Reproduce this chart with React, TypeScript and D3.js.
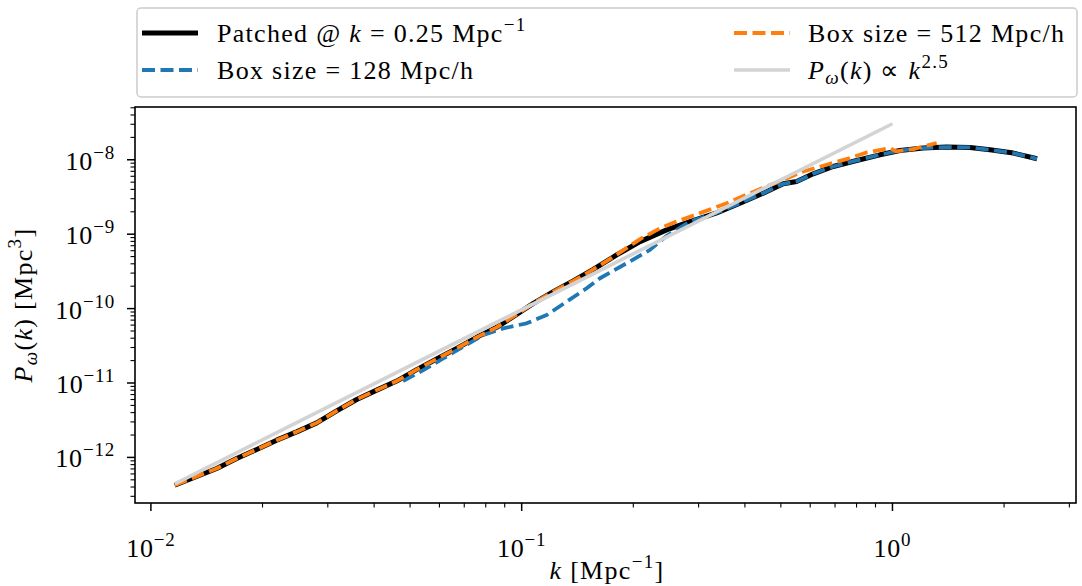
import React from "react"
import * as d3 from "d3"

// patched spectrum (black)
const kPatched = [0.01159, 0.01505, 0.01703, 0.01929, 0.02184, 0.02472, 0.028, 0.0317, 0.03589, 0.04064, 0.04601, 0.05209, 0.05898, 0.06678, 0.0756, 0.08562, 0.0949, 0.1075, 0.1217, 0.1377, 0.156, 0.1804, 0.2085, 0.246, 0.2844, 0.3357, 0.3879, 0.4482, 0.5076, 0.5515, 0.6114, 0.6922, 0.8007, 0.9254, 1.0476, 1.211, 1.4, 1.618, 1.832, 2.118, 2.454]
const pPatched = [4.23e-13, 7.1e-13, 9.66e-13, 1.277e-12, 1.706e-12, 2.204e-12, 2.911e-12, 4.225e-12, 6.01e-12, 8.02e-12, 1.061e-11, 1.514e-11, 2.099e-11, 2.923e-11, 4.11e-11, 5.6e-11, 7.78e-11, 1.178e-10, 1.687e-10, 2.35e-10, 3.36e-10, 5.26e-10, 7.94e-10, 1.142e-9, 1.479e-9, 1.936e-9, 2.61e-9, 3.56e-9, 4.75e-9, 5.11e-9, 6.48e-9, 8.13e-9, 9.79e-9, 1.166e-8, 1.334e-8, 1.436e-8, 1.482e-8, 1.465e-8, 1.365e-8, 1.231e-8, 1.031e-8]

// box size 128 Mpc/h (blue)
const kBox128 = [0.04786, 0.05428, 0.06145, 0.0696, 0.07876, 0.08921, 0.1031, 0.1168, 0.1322, 0.1497, 0.1626, 0.1919, 0.2218, 0.246, 0.2844, 0.3357, 0.3879, 0.4482, 0.5076, 0.5515, 0.6114, 0.6922, 0.8007, 0.9254, 1.0476, 1.211, 1.4, 1.618, 1.832, 2.118, 2.454]
const pBox128 = [1.061e-11, 1.493e-11, 2.143e-11, 3.07e-11, 4.41e-11, 5.43e-11, 6.34e-11, 8.2e-11, 1.238e-10, 1.875e-10, 2.56e-10, 4.07e-10, 6.15e-10, 9.48e-10, 1.479e-9, 1.936e-9, 2.61e-9, 3.56e-9, 4.75e-9, 5.11e-9, 6.48e-9, 8.13e-9, 9.79e-9, 1.166e-8, 1.334e-8, 1.436e-8, 1.482e-8, 1.465e-8, 1.365e-8, 1.231e-8, 1.031e-8]

// box size 512 Mpc/h (orange)
const kBox512 = [0.01159, 0.01505, 0.01703, 0.01929, 0.02184, 0.02472, 0.028, 0.0317, 0.03589, 0.04064, 0.04601, 0.05209, 0.05898, 0.06678, 0.0756, 0.08562, 0.0949, 0.1075, 0.1217, 0.1377, 0.156, 0.1804, 0.2085, 0.236, 0.2618, 0.3026, 0.3571, 0.4127, 0.4873, 0.5745, 0.6646, 0.7678, 0.8519, 0.9846, 1.022, 1.138, 1.316]
const pBox512 = [4.23e-13, 7.1e-13, 9.66e-13, 1.277e-12, 1.706e-12, 2.204e-12, 2.911e-12, 4.225e-12, 6.01e-12, 8.02e-12, 1.061e-11, 1.514e-11, 2.099e-11, 2.923e-11, 4.11e-11, 5.6e-11, 7.78e-11, 1.178e-10, 1.687e-10, 2.35e-10, 3.36e-10, 5.3e-10, 8.59e-10, 1.197e-9, 1.479e-9, 1.918e-9, 2.61e-9, 3.56e-9, 4.94e-9, 6.96e-9, 8.57e-9, 1.054e-8, 1.253e-8, 1.436e-8, 1.3e-8, 1.392e-8, 1.679e-8]

// power law k^2.5 (grey)
const kPow = [0.0116, 1.0]
const pPow = [4.42e-13, 3.05e-8]

const xTicks = [0.01, 0.1, 1]
const xTickExp = ["−2", "−1", "0"]
const yTicks = [1e-12, 1e-11, 1e-10, 1e-9, 1e-8]
const yTickExp = ["−12", "−11", "−10", "−9", "−8"]

const W = 1082
const H = 586
const left = 135, right = 1076, top = 107, bottom = 503
const font = "'Liberation Serif', 'Times New Roman', serif"

export default function App() {
    const x = d3.scaleLog().domain([0.00906, 3.126]).range([left, right])
    const y = d3.scaleLog().domain([2.44e-13, 5.12e-8]).range([bottom, top])

    const line = d3.line<[number, number]>().x(d => x(d[0])).y(d => y(d[1]))
    const zip = (a: number[], b: number[]) => a.map((v, i) => [v, b[i]] as [number, number])

    // minor ticks
    const xMinor: number[] = []
    for (let e = -3; e <= 0; e++) for (let m = 2; m <= 9; m++) {
        const v = m * Math.pow(10, e)
        if (v > x.domain()[0] && v < x.domain()[1]) xMinor.push(v)
    }
    const yMinor: number[] = []
    for (let e = -13; e <= -8; e++) for (let m = 2; m <= 9; m++) {
        const v = m * Math.pow(10, e)
        if (v > y.domain()[0] && v < y.domain()[1]) yMinor.push(v)
    }

    const fs = 26
    const sup = 19
    const ls = 1.3 // legend letter spacing

    return (
        <div style={{ position: "absolute", left: 0, top: 0 }}>
            <svg width={W} height={H} style={{ display: "block", fontFamily: font }}>
                <rect width={W} height={H} fill="white" />
                <defs>
                    <clipPath id="plot">
                        <rect x={left} y={top} width={right - left} height={bottom - top} />
                    </clipPath>
                </defs>

                <g clipPath="url(#plot)" fill="none" strokeLinejoin="round">
                    <path d={line(zip(kPatched, pPatched)) || ""} stroke="#000" strokeWidth={5} />
                    <path d={line(zip(kBox128, pBox128)) || ""} stroke="#1f77b4" strokeWidth={3.8} strokeDasharray="13,5.5" />
                    <path d={line(zip(kBox512, pBox512)) || ""} stroke="#ff7f0e" strokeWidth={3.8} strokeDasharray="13,5.5" />
                    <path d={line(zip(kPow, pPow)) || ""} stroke="#d3d3d3" strokeWidth={3.6} />
                </g>

                {/* axes frame */}
                <rect x={left} y={top} width={right - left} height={bottom - top} fill="none" stroke="#000" strokeWidth={1.6} />

                {/* x ticks */}
                {xMinor.map((v, i) => (
                    <line key={"xm" + i} x1={x(v)} x2={x(v)} y1={bottom} y2={bottom + 4.5} stroke="#000" strokeWidth={1.1} />
                ))}
                {xTicks.map((v, i) => (
                    <g key={"xt" + i}>
                        <line x1={x(v)} x2={x(v)} y1={bottom} y2={bottom + 8} stroke="#000" strokeWidth={1.5} />
                        <text x={x(v)} y={557} fontSize={fs} textAnchor="middle" letterSpacing={0.8}>
                            10<tspan dy={-11} fontSize={sup}>{xTickExp[i]}</tspan>
                        </text>
                    </g>
                ))}

                {/* y ticks */}
                {yMinor.map((v, i) => (
                    <line key={"ym" + i} x1={left} x2={left - 4.5} y1={y(v)} y2={y(v)} stroke="#000" strokeWidth={1.1} />
                ))}
                {yTicks.map((v, i) => (
                    <g key={"yt" + i}>
                        <line x1={left} x2={left - 8} y1={y(v)} y2={y(v)} stroke="#000" strokeWidth={1.5} />
                        <text x={115} y={y(v) + 10} fontSize={fs} textAnchor="end" letterSpacing={0.8}>
                            10<tspan dy={-11} fontSize={sup}>{yTickExp[i]}</tspan>
                        </text>
                    </g>
                ))}

                {/* axis labels */}
                <text x={607} y={579} fontSize={fs} textAnchor="middle" letterSpacing={ls}>
                    <tspan fontStyle="italic">k</tspan> [Mpc<tspan dy={-11} fontSize={sup}>−1</tspan><tspan dy={11}>]</tspan>
                </text>
                <text transform="translate(32,305) rotate(-90)" fontSize={fs} textAnchor="middle" letterSpacing={ls}>
                    <tspan fontStyle="italic">P</tspan><tspan fontStyle="italic" fontSize={sup} dy={5}>ω</tspan><tspan dy={-5}>(</tspan><tspan fontStyle="italic">k</tspan>) [Mpc<tspan dy={-11} fontSize={sup}>3</tspan><tspan dy={11}>]</tspan>
                </text>

                {/* legend */}
                <rect x={137} y={8} width={940} height={89} rx={4} fill="white" fillOpacity={0.8} stroke="#cccccc" strokeWidth={1.5} />
                <line x1={142} x2={198} y1={33} y2={33} stroke="#000" strokeWidth={5} />
                <text x={217} y={42} fontSize={fs} letterSpacing={ls}>
                    Patched @ <tspan fontStyle="italic">k</tspan> = 0.25 Mpc<tspan dy={-11} fontSize={sup}>−1</tspan>
                </text>
                <line x1={142} x2={198} y1={70} y2={70} stroke="#1f77b4" strokeWidth={3.8} strokeDasharray="13,5.5" />
                <text x={217} y={79} fontSize={fs} letterSpacing={ls}>Box size = 128 Mpc/h</text>
                <line x1={734} x2={790} y1={33} y2={33} stroke="#ff7f0e" strokeWidth={3.8} strokeDasharray="13,5.5" />
                <text x={808} y={42} fontSize={fs} letterSpacing={ls}>Box size = 512 Mpc/h</text>
                <line x1={734} x2={790} y1={70} y2={70} stroke="#d3d3d3" strokeWidth={3.6} />
                <text x={808} y={79} fontSize={fs} letterSpacing={ls}>
                    <tspan fontStyle="italic">P</tspan><tspan fontStyle="italic" fontSize={sup} dy={5}>ω</tspan><tspan dy={-5}>(</tspan><tspan fontStyle="italic">k</tspan>) ∝ <tspan fontStyle="italic">k</tspan><tspan dy={-11} fontSize={sup}>2.5</tspan>
                </text>
            </svg>
        </div>
    )
}
